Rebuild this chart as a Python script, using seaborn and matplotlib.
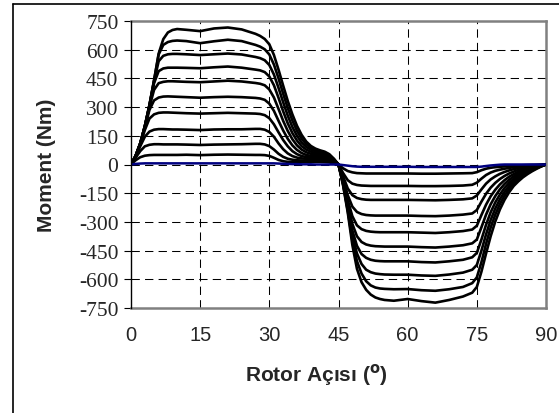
import matplotlib
matplotlib.use("Agg")
import matplotlib.pyplot as plt
import seaborn as sns
import pandas as pd
from matplotlib.lines import Line2D

# ---------------- data ----------------
angles_pos = [0, 1, 2, 3, 4, 5, 6, 7, 8, 9, 10, 12, 15, 18, 21, 24, 27,
              28, 29, 30, 31, 32, 33, 34, 35, 36, 37, 38, 39, 40, 41, 42, 43, 44, 45]
angles_neg = [46, 47, 48, 49, 50, 51, 52, 53, 54, 55, 57, 60, 63, 66, 69, 72, 74,
              75, 76, 77, 78, 79, 80, 81, 82, 83, 84, 85, 86, 87, 88, 89, 90]

c1_pos = [0, 22, 38, 46, 49, 50, 50, 50, 50, 50, 50, 51, 49, 51, 52, 51, 50,
          50, 49, 45, 35, 24, 17, 14, 13, 13, 13, 14, 14, 14, 14, 13, 11, 6, 0]
c1_neg = [-20, -34, -41, -45, -46, -47, -47, -47, -47, -47, -47, -47, -48, -48, -47, -46, -45,
          -40, -30, -22, -17, -14, -12, -10, -8, -7, -5, -4, -3, -2, -2, -1, 0]

c2_pos = [0, 35, 70, 95, 103, 106, 106, 105, 105, 105, 105, 104, 102, 104, 105, 106, 108,
          108, 105, 96, 78, 56, 40, 30, 25, 22, 21, 21, 21, 21, 21, 19, 15, 8, 0]
c2_neg = [-45, -82, -100, -107, -110, -111, -112, -112, -112, -112, -112, -112, -113, -113, -112, -110, -106,
          -95, -74, -55, -42, -33, -27, -22, -18, -14, -11, -9, -7, -5, -3, -2, 0]

c3_pos = [0, 40, 95, 145, 172, 182, 185, 185, 184, 183, 183, 182, 180, 183, 184, 184, 186,
          186, 182, 170, 145, 110, 80, 58, 44, 36, 32, 30, 29, 29, 28, 26, 21, 11, 0]
c3_neg = [-62, -125, -160, -175, -181, -184, -185, -185, -185, -185, -185, -185, -186, -187, -185, -182, -177,
          -162, -130, -100, -78, -62, -49, -39, -31, -24, -19, -14, -11, -8, -5, -3, 0]

c4_pos = [0, 42, 105, 180, 240, 262, 270, 272, 272, 271, 270, 268, 266, 268, 270, 268, 266,
          264, 258, 242, 210, 168, 128, 95, 70, 54, 44, 39, 36, 35, 34, 32, 26, 14, 0]
c4_neg = [-75, -160, -220, -248, -259, -264, -266, -267, -267, -267, -267, -267, -269, -270, -267, -262, -256,
          -238, -194, -153, -121, -96, -76, -60, -47, -37, -28, -22, -16, -11, -7, -4, 0]

c5_pos = [0, 44, 108, 192, 285, 335, 350, 355, 356, 355, 354, 352, 349, 352, 354, 352, 348,
          345, 338, 318, 280, 228, 178, 134, 100, 76, 60, 50, 45, 42, 40, 38, 31, 17, 0]
c5_neg = [-85, -185, -270, -318, -338, -347, -351, -353, -354, -354, -354, -354, -356, -358, -354, -348, -340,
          -320, -264, -210, -166, -132, -104, -82, -64, -50, -38, -29, -22, -15, -10, -5, 0]

c6_pos = [0, 45, 110, 198, 300, 390, 425, 432, 435, 435, 434, 432, 430, 434, 438, 434, 426,
          422, 414, 392, 350, 290, 228, 175, 132, 100, 78, 64, 56, 51, 48, 45, 37, 20, 0]
c6_neg = [-90, -205, -310, -375, -405, -418, -424, -427, -428, -429, -429, -429, -432, -434, -429, -422, -412,
          -392, -328, -262, -208, -165, -130, -102, -80, -62, -47, -36, -27, -19, -12, -6, 0]

c7_pos = [0, 45, 110, 200, 308, 425, 488, 502, 506, 506, 506, 505, 503, 508, 512, 506, 496,
          492, 483, 460, 414, 348, 278, 215, 164, 125, 96, 78, 67, 60, 56, 52, 42, 23, 0]
c7_neg = [-95, -220, -345, -425, -468, -488, -498, -503, -505, -506, -506, -506, -510, -512, -506, -498, -485,
          -462, -392, -315, -250, -198, -157, -123, -96, -74, -57, -43, -32, -22, -14, -7, 0]

c8_pos = [0, 45, 110, 200, 310, 435, 540, 568, 576, 578, 578, 576, 572, 576, 580, 575, 562,
          556, 545, 520, 470, 400, 325, 255, 196, 150, 115, 92, 78, 69, 63, 58, 47, 26, 0]
c8_neg = [-100, -230, -370, -465, -520, -550, -563, -570, -573, -575, -576, -576, -580, -582, -575, -565, -550,
          -525, -450, -365, -290, -230, -182, -143, -112, -86, -66, -50, -37, -26, -16, -8, 0]

c9_pos = [0, 45, 110, 200, 310, 440, 575, 625, 640, 646, 648, 645, 634, 644, 652, 645, 625,
          616, 602, 575, 522, 450, 370, 295, 230, 176, 135, 106, 88, 76, 68, 62, 50, 28, 0]
c9_neg = [-105, -240, -395, -505, -570, -610, -632, -643, -648, -650, -652, -651, -657, -660, -652, -640, -620,
          -590, -510, -415, -330, -262, -207, -163, -127, -98, -76, -58, -43, -30, -19, -9, 0]

c10_pos = [0, 45, 110, 200, 310, 440, 580, 655, 690, 703, 708, 704, 697, 711, 716, 706, 683,
           672, 656, 628, 572, 495, 412, 332, 262, 202, 155, 120, 97, 83, 74, 67, 54, 30, 0]
c10_neg = [-110, -250, -420, -545, -615, -655, -680, -695, -703, -708, -712, -703, -714, -722, -708, -690, -670,
           -640, -560, -465, -375, -298, -235, -185, -145, -112, -88, -67, -50, -35, -22, -10, 0]

blue_pos = [0, 3, 5, 6, 6, 6, 6, 6, 6, 6, 6, 6, 6, 6, 6, 6, 6,
            6, 6, 6, 6, 5, 4, 3, 2, 2, 1, 1, 1, 0, 0, 0, 0, 0, 0]
blue_neg = [-3, -6, -9, -11, -12, -12, -12, -12, -12, -12, -12, -12, -13, -13, -13, -13, -13,
            -13, -11, -8, -5, -3, -1, 0, 0, 0, 0, 0, 0, 0, 0, 0, 0]

x_ticks = [0, 15, 30, 45, 60, 75, 90]
y_ticks = [750, 600, 450, 300, 150, 0, -150, -300, -450, -600, -750]

black_curves = [
    ("c1", c1_pos, c1_neg), ("c2", c2_pos, c2_neg), ("c3", c3_pos, c3_neg),
    ("c4", c4_pos, c4_neg), ("c5", c5_pos, c5_neg), ("c6", c6_pos, c6_neg),
    ("c7", c7_pos, c7_neg), ("c8", c8_pos, c8_neg), ("c9", c9_pos, c9_neg),
    ("c10", c10_pos, c10_neg),
]

rows = []
for name, p, n in black_curves:
    for a, v in zip(angles_pos + angles_neg, p + n):
        rows.append({"angle": a, "torque": v, "curve": name})
df = pd.DataFrame(rows)
df_blue = pd.DataFrame({"angle": angles_pos + angles_neg, "torque": blue_pos + blue_neg})

# ---------------- figure ----------------
sns.set_theme(style="white")
plt.rcParams["font.family"] = ["Liberation Sans", "DejaVu Sans"]

fig = plt.figure(figsize=(5.59, 4.14), dpi=100)
ax = fig.add_axes([131 / 559, 1 - 309 / 414, 415 / 559, 287 / 414])

grid_kw = dict(color="black", lw=0.75, ls=(0, (8, 5)), zorder=1)
for xv in x_ticks[1:-1]:
    ax.axvline(xv, **grid_kw)
for yv in y_ticks[1:-1]:
    ax.axhline(yv, **grid_kw)

sns.lineplot(data=df, x="angle", y="torque", units="curve", estimator=None,
             sort=False, color="black", lw=1.9, ax=ax, legend=False, zorder=3)
sns.lineplot(data=df_blue, x="angle", y="torque", estimator=None, sort=False,
             color="#000080", lw=1.8, ax=ax, legend=False, zorder=4)
for ln in ax.get_lines():
    ln.set_solid_joinstyle("round")
    ln.set_solid_capstyle("round")

ax.set_xlim(0, 90)
ax.set_ylim(-750, 750)
ax.set_xticks(x_ticks)
ax.set_yticks(y_ticks)
ax.set_xticklabels([str(v) for v in x_ticks], fontsize=14.5, family="Liberation Sans")
ax.set_yticklabels([str(v) for v in y_ticks], fontsize=15.5, family="Liberation Serif")
ax.tick_params(axis="x", length=0, pad=12)
ax.tick_params(axis="y", direction="out", length=5, width=0.8, color="black", pad=4, left=True)

for s in ["top", "right", "bottom"]:
    ax.spines[s].set_color("#808080")
    ax.spines[s].set_linewidth(1.8)
ax.spines["left"].set_color("black")
ax.spines["left"].set_linewidth(1.0)
ax.spines["left"].set_zorder(5)

ax.set_xlabel("")
ax.set_ylabel("")
fig.text(316 / 559, 1 - 375 / 414, r"Rotor Açısı ($\mathbf{^o}$)", ha="center", va="center",
         fontsize=15, fontweight="bold", family="Liberation Sans")
fig.text(47 / 559, 1 - 165 / 414, "Moment (Nm)", ha="center", va="center", rotation=90,
         fontsize=15, fontweight="bold", family="Liberation Sans")

# chart-area frame (left and top edges visible)
fig.add_artist(Line2D([12.5 / 559, 12.5 / 559], [0, 1 - 4.5 / 414], transform=fig.transFigure,
                      color="black", lw=1.2))
fig.add_artist(Line2D([12.5 / 559, 1], [1 - 4.5 / 414, 1 - 4.5 / 414], transform=fig.transFigure,
                      color="black", lw=1.2))

fig.savefig("out.png", dpi=100)
